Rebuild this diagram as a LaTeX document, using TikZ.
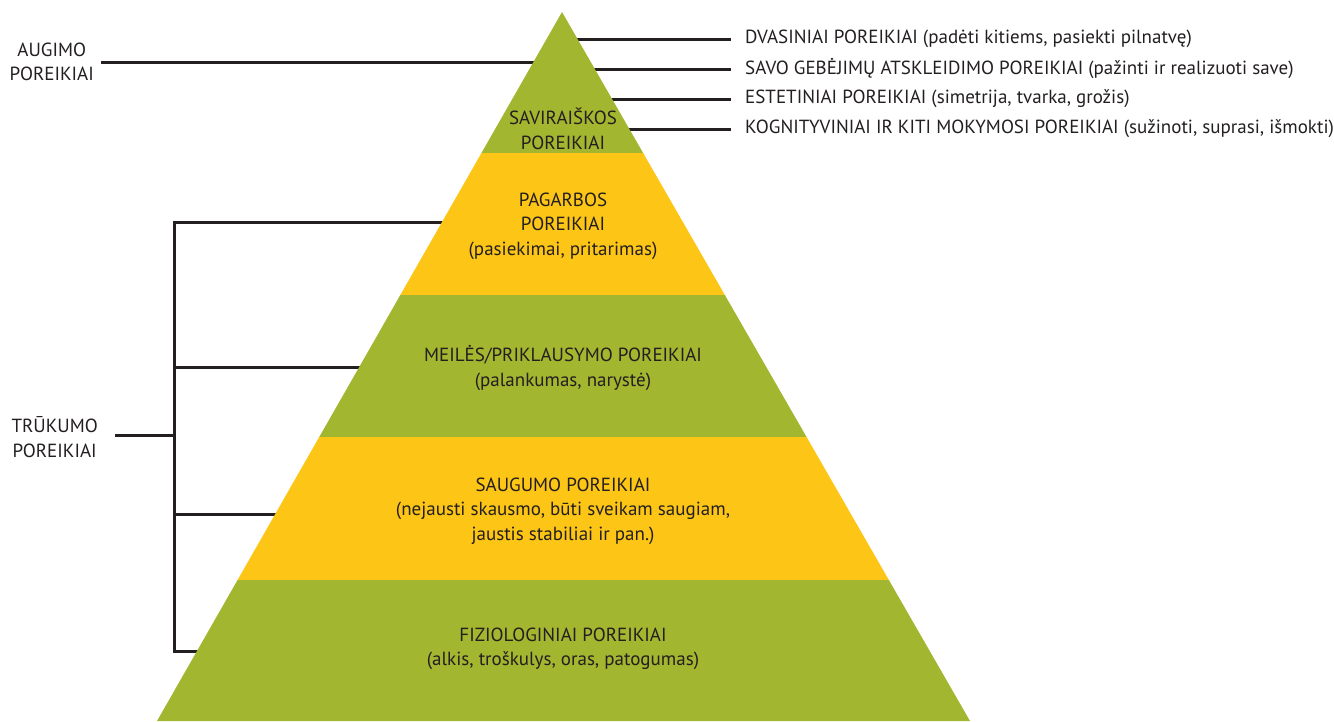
\documentclass[tikz,border=0pt]{standalone}
\usepackage{fontspec}
\setmainfont{PT Sans}
\definecolor{grn}{HTML}{A3B62F}
\definecolor{yel}{HTML}{FDC516}
\definecolor{ink}{HTML}{231F20}
\begin{document}
\begin{tikzpicture}[x=1pt,y=-1pt,
  lbl/.style={font=\fontsize{19}{24.5}\selectfont, text=ink, inner sep=0pt},
  rlbl/.style={lbl, anchor=west, inner xsep=14pt},
  plbl/.style={lbl, align=center},
  conn/.style={draw=ink, line width=3pt}]
\useasboundingbox (0,0) rectangle (1334,721);
% pyramid corners
\coordinate (apex) at (562,12);
\coordinate (bl) at (157,721);
\coordinate (br) at (970,721);
% side labels
\node[rlbl] (d1) at (731,39) {DVASINIAI POREIKIAI (padėti kitiems, pasiekti pilnatvę)};
\node[rlbl] (d2) at (731,69) {SAVO GEBĖJIMŲ ATSKLEIDIMO POREIKIAI (pažinti ir realizuoti save)};
\node[rlbl] (d3) at (731,99) {ESTETINIAI POREIKIAI (simetrija, tvarka, grožis)};
\node[rlbl] (d4) at (731,129) {KOGNITYVINIAI IR KITI MOKYMOSI POREIKIAI (sužinoti, suprasi, išmokti)};
\node[lbl, align=center, anchor=east, inner xsep=7pt] (aug) at (101,62) {AUGIMO\\POREIKIAI};
\node[lbl, align=center, anchor=east, inner xsep=17pt] (tru) at (115,437) {TRŪKUMO\\POREIKIAI};
% edge points (slightly inside the pyramid)
\coordinate (r1) at (570,39);
\coordinate (r2) at (588,69);
\coordinate (r3) at (605,99);
\coordinate (r4) at (622,129);
\coordinate (a1) at (540,62);
\coordinate (e1) at (450,222);
\coordinate (e2) at (366,367);
\coordinate (e3) at (282,514);
\coordinate (e4) at (204,651);
\coordinate (b1) at (174,222);
\coordinate (b2) at (174,367);
\coordinate (b3) at (174,514);
\coordinate (b4) at (174,651);
\coordinate (bm) at (174,435);
% connectors
\draw[conn] (d1.west) -- (r1);
\draw[conn] (d2.west) -- (r2);
\draw[conn] (d3.west) -- (r3);
\draw[conn] (d4.west) -- (r4);
\draw[conn] (aug.east) -- (a1);
\draw[conn, line join=miter] (e1) -- (b1) -- (b4) -- (e4);
\draw[conn] (b2) -- (e2);
\draw[conn] (b3) -- (e3);
\draw[conn] (tru.east |- bm) -- (bm);
% pyramid
\begin{scope}
\clip (apex) -- (bl) -- (br) -- cycle;
\fill[grn] (0,0) rectangle (1334,153.5);
\fill[yel] (0,153) rectangle (1334,295.5);
\fill[grn] (0,295) rectangle (1334,437.5);
\fill[yel] (0,437) rectangle (1334,580);
\fill[grn] (0,579.5) rectangle (1334,722);
\end{scope}
% pyramid texts
\node[plbl] (p1) at (563,129) {SAVIRAIŠKOS\\POREIKIAI};
\node[plbl] (p2) at (563,226) {PAGARBOS\\POREIKIAI\\(pasiekimai, pritarimas)};
\node[plbl] (p3) at (563,368) {MEILĖS/PRIKLAUSYMO POREIKIAI\\(palankumas, narystė)};
\node[plbl] (p4) at (563,511) {SAUGUMO POREIKIAI\\(nejausti skausmo, būti sveikam saugiam,\\jaustis stabiliai ir pan.)};
\node[plbl] (p5) at (563,649) {FIZIOLOGINIAI POREIKIAI\\(alkis, troškulys, oras, patogumas)};
\end{tikzpicture}
\end{document}
